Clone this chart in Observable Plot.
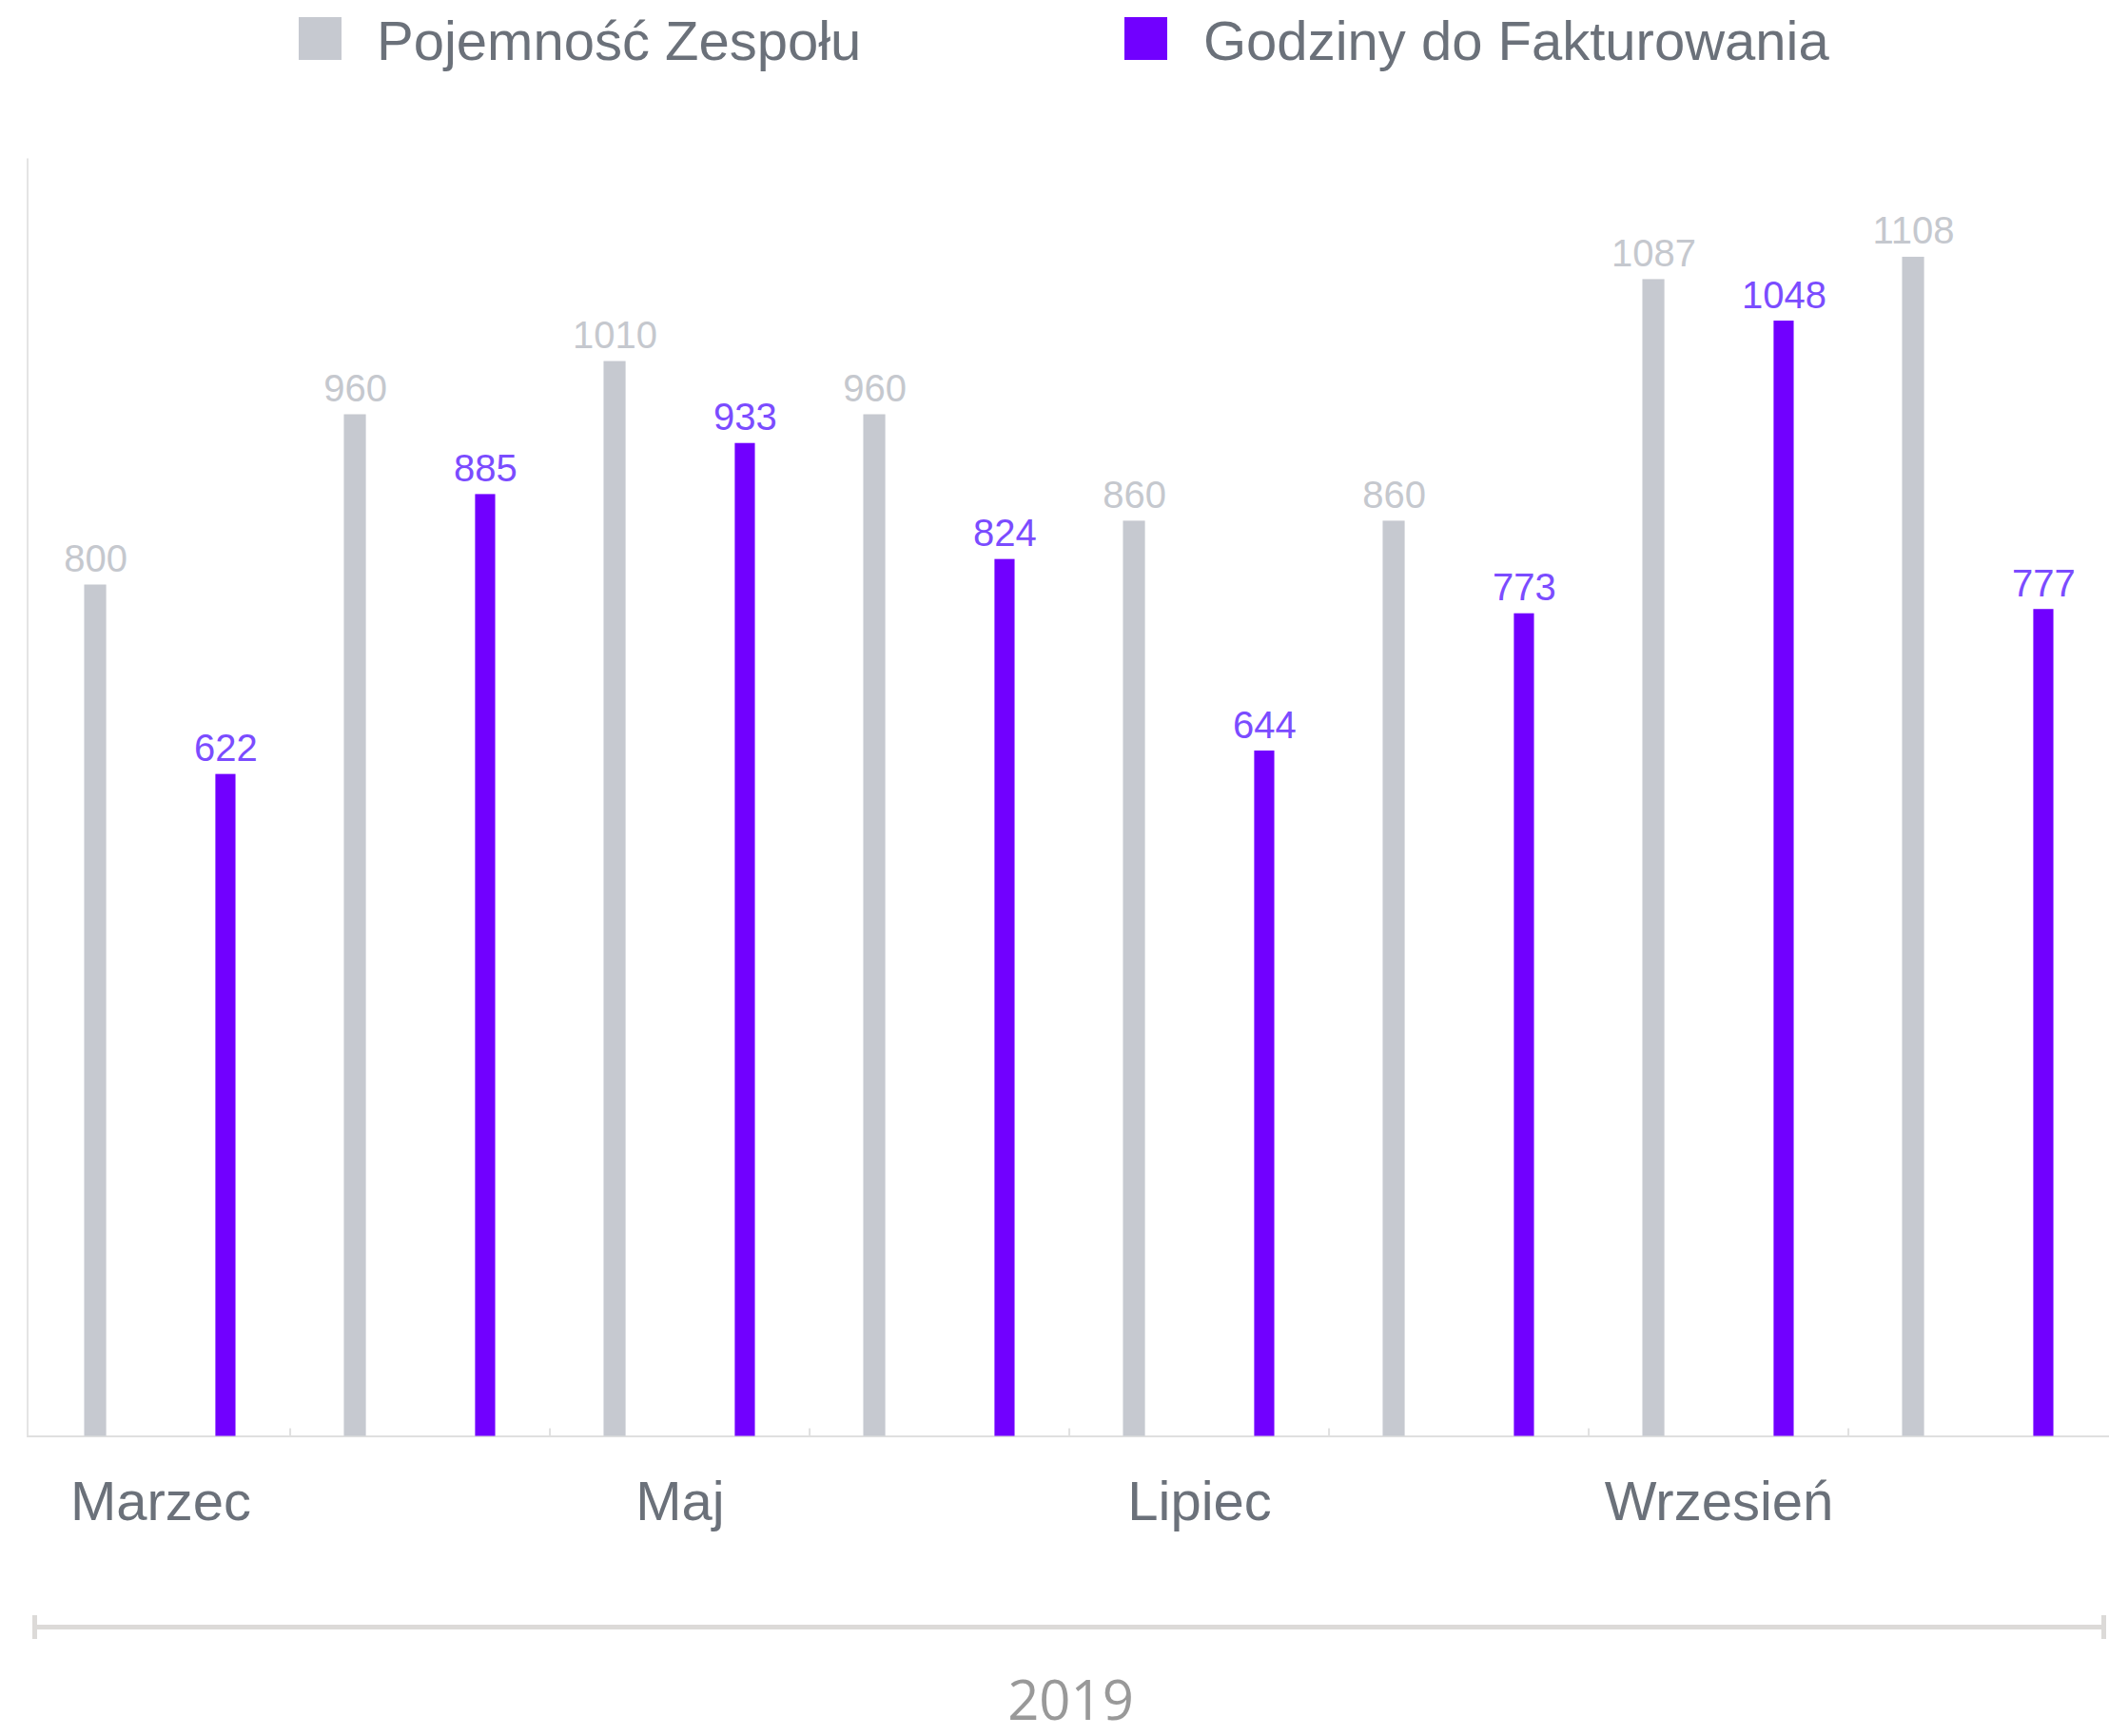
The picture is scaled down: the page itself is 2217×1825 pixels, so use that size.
<!DOCTYPE html>
<html>
<head>
<meta charset="utf-8">
<script src="https://cdn.jsdelivr.net/npm/d3@7"></script>
<script src="https://cdn.jsdelivr.net/npm/@observablehq/plot@0.6"></script>
<style>
  html, body { margin: 0; padding: 0; background: #ffffff; overflow: hidden; }
  #legend, #footer { position: relative; width: 2217px; }
  #legend { height: 100px; }
  #footer { height: 135px; }
  #chart svg { display: block; }
  .sw { position: absolute; top: 18px; width: 45px; height: 45px; }
  .lt { position: absolute; top: 14px; font-family: 'Liberation Sans', Arial, sans-serif; font-size: 58px; line-height: 58px; color: #6b717a; white-space: nowrap; }
</style>
</head>
<body>
<div id="legend"></div>
<div id="chart"></div>
<div id="footer"></div>
<script>
// ---- data ----
const months = ["Marzec", "Kwiecień", "Maj", "Czerwiec", "Lipiec", "Sierpień", "Wrzesień", "Październik"];
const capacity = [800, 960, 1010, 960, 860, 860, 1087, 1108];
const billable = [622, 885, 933, 824, 644, 773, 1048, 777];
const tickLabels = ["Marzec", "Maj", "Lipiec", "Wrzesień"];
const seriesNames = ["Pojemność Zespołu", "Godziny do Fakturowania"];
const yearLabel = "2019";

// ---- styles ----
const grayBar = "#c6c9d0";
const purpleBar = "#7100ff";
const seriesColors = [grayBar, purpleBar];

const rows = months.map((m, i) => ({month: m, capacity: capacity[i], billable: billable[i]}));

// ---- legend ----
const legend = document.getElementById("legend");
const swatchX = [314, 1182];
const textX = [396, 1265];
seriesNames.forEach((name, i) => {
  const sw = document.createElement("div");
  sw.className = "sw";
  sw.style.left = swatchX[i] + "px";
  sw.style.background = seriesColors[i];
  legend.appendChild(sw);
  const t = document.createElement("div");
  t.className = "lt";
  t.style.left = textX[i] + "px";
  t.textContent = name;
  legend.appendChild(t);
});

// ---- chart ----
const width = 2217, height = 1590;
const marginTop = 67, marginBottom = 180.5, marginLeft = 28.5, marginRight = -2.4;
const plotH = height - marginTop - marginBottom;
const band = (width - marginLeft - marginRight) / months.length;
const half = band / 2;
const off = band / 4;
const bwGray = 24, bwPurple = 22;

const chart = Plot.plot({
  width, height, marginTop, marginBottom, marginLeft, marginRight,
  x: {domain: months, padding: 0},
  y: {domain: [0, 1200], axis: null},
  style: {fontFamily: "'Liberation Sans', Arial, sans-serif", background: "#ffffff"},
  marks: [
    Plot.frame({anchor: "left", stroke: "#e4e4e4", strokeWidth: 2}),
    Plot.ruleY([0], {stroke: "#e0e0e0", strokeWidth: 2}),
    Plot.ruleX(months.slice(1), {x: d => d, dx: -half, insetTop: plotH - 8, stroke: "#e0e0e0", strokeWidth: 2}),
    Plot.barY(rows, {x: "month", y: "capacity", fill: grayBar, insetLeft: off - bwGray / 2, insetRight: band - off - bwGray / 2}),
    Plot.barY(rows, {x: "month", y: "billable", fill: purpleBar, insetLeft: 3 * off - bwPurple / 2, insetRight: off - bwPurple / 2}),
    Plot.text(rows, {x: "month", y: "capacity", text: d => String(d.capacity), dx: -off, dy: -14, lineAnchor: "bottom", fill: "#c5c8ce", fontSize: 40}),
    Plot.text(rows, {x: "month", y: "billable", text: d => String(d.billable), dx: off, dy: -14, lineAnchor: "bottom", fill: "#7b4cff", fontSize: 40}),
    Plot.axisX({ticks: tickLabels, tickSize: 0, tickPadding: 47, fontSize: 58, color: "#6b717a", label: null})
  ]
});
document.getElementById("chart").appendChild(chart);

// ---- footer: bracket + year ----
const footer = document.getElementById("footer");
function box(l, t, w, h, c) {
  const d = document.createElement("div");
  d.style.cssText = `position:absolute;left:${l}px;top:${t}px;width:${w}px;height:${h}px;background:${c}`;
  footer.appendChild(d);
}
const bracketColor = "#dcdad8";
box(34, 18, 2180, 5, bracketColor);
box(34, 8, 5, 25, bracketColor);
box(2209, 8, 5, 25, bracketColor);
const yr = document.createElement("div");
yr.textContent = yearLabel;
yr.style.cssText = "position:absolute;left:0;width:2251px;text-align:center;top:71px;font-family:'Open Sans',sans-serif;font-size:58px;line-height:50px;color:#999999";
footer.appendChild(yr);
</script>
</body>
</html>
